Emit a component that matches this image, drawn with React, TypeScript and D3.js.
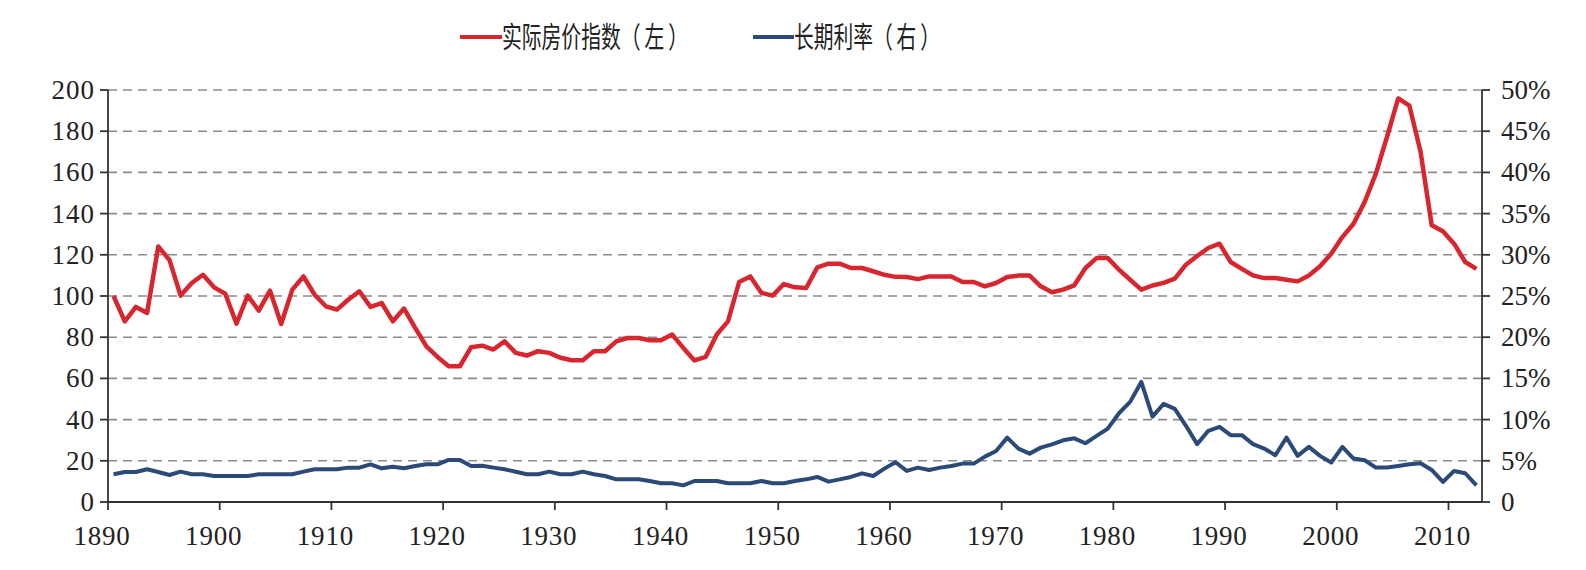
import React from "react";
import * as d3 from "d3";

// Real home price index (1890 = 100), annual, 1890–2012
const years: number[] = d3.range(1890, 2013);
const housePrice: number[] = [
  100, 87.7, 94.7, 91.8, 124, 117.5, 100.2, 106.3, 110.3, 104.2,
  101.1, 86.6, 100.2, 92.9, 102.6, 86.4, 103.1, 109.5, 100.6, 95,
  93.4, 98.2, 102.3, 94.7, 96.6, 87.7, 93.9, 84.5, 75.6, 70.4,
  65.9, 65.9, 75.1, 75.9, 74.0, 78.0, 72.4, 71.1, 73.2, 72.4,
  70.0, 68.8, 68.8, 73.2, 73.2, 78.0, 79.6, 79.6, 78.5, 78.5,
  81.3, 74.8, 68.7, 70.4, 81.3, 87.7, 106.8, 109.5, 101.5, 100.2,
  105.8, 104.2, 103.9, 113.9, 115.7, 115.7, 113.6, 113.6, 112.0, 110.3,
  109.3, 109.2, 108.2, 109.5, 109.5, 109.5, 106.8, 106.8, 104.7, 106.3,
  109.2, 109.9, 109.9, 104.7, 101.8, 103.1, 105.2, 113.6, 118.4, 118.4,
  112.8, 107.9, 103.1, 105.1, 106.4, 108.4, 115.2, 119.4, 123.3, 125.4,
  116.5, 113.2, 110.0, 108.7, 108.7, 107.9, 107.1, 110.0, 114.4, 120.5,
  128.6, 135.1, 145.7, 159.4, 177.3, 195.9, 192.4, 170.0, 134.3, 131.4,
  125.4, 116.5, 113.2,
];

// Long-term interest rate (%), annual, 1890–2012
const longRate: number[] = [
  3.36, 3.64, 3.64, 3.97, 3.64, 3.28, 3.68, 3.36, 3.36, 3.16,
  3.16, 3.16, 3.16, 3.36, 3.36, 3.36, 3.36, 3.68, 3.97, 3.97,
  3.97, 4.17, 4.17, 4.57, 4.09, 4.29, 4.09, 4.37, 4.57, 4.57,
  5.1, 5.1, 4.37, 4.4, 4.17, 3.97, 3.68, 3.36, 3.36, 3.68,
  3.36, 3.36, 3.68, 3.36, 3.16, 2.75, 2.75, 2.75, 2.55, 2.27,
  2.27, 2.02, 2.55, 2.55, 2.55, 2.27, 2.27, 2.27, 2.55, 2.27,
  2.27, 2.55, 2.75, 3.04, 2.47, 2.75, 3.04, 3.48, 3.16, 4.05,
  4.82, 3.77, 4.17, 3.89, 4.17, 4.37, 4.66, 4.66, 5.51, 6.19,
  7.81, 6.48, 5.87, 6.6, 7.0, 7.49, 7.73, 7.13, 8.02, 8.91,
  10.77, 12.15, 14.57, 10.36, 11.9, 11.3, 9.25, 7.02, 8.64, 9.12,
  8.11, 8.11, 7.02, 6.49, 5.68, 7.83, 5.6, 6.69, 5.6, 4.79,
  6.69, 5.27, 5.07, 4.18, 4.18, 4.38, 4.58, 4.7, 3.89, 2.43,
  3.77, 3.49, 2.03,
];

const leftTicks: number[] = [0, 20, 40, 60, 80, 100, 120, 140, 160, 180, 200];
const rightTicks: number[] = [0, 5, 10, 15, 20, 25, 30, 35, 40, 45, 50];
const decadeTicks: number[] = [1890, 1900, 1910, 1920, 1930, 1940, 1950, 1960, 1970, 1980, 1990, 2000, 2010];

const legendPrice = "实际房价指数（\u2009左\u2009）";
const legendRate = "长期利率（\u2009右\u2009）";

const RED = "#d8262f";
const BLUE = "#2c4a78";
const AXIS = "#333333";
const GRID = "#8c8c8c";
const SERIF = "'Liberation Serif', 'Times New Roman', serif";
const CJK = "'Noto Sans CJK SC', sans-serif";

export default function App() {
  const W = 1586;
  const H = 570;
  const left = 108;
  const right = 1482;
  const top = 90;
  const bottom = 502;

  const x = d3.scaleBand<number>().domain(years).range([left, right]).padding(0);
  const cx = (yr: number) => (x(yr) as number) + x.bandwidth() / 2;
  const yL = d3.scaleLinear().domain([0, 200]).range([bottom, top]);
  const yR = d3.scaleLinear().domain([0, 50]).range([bottom, top]);

  const priceLine = d3
    .line<number>()
    .x((_, i) => cx(years[i]))
    .y((d) => yL(d));
  const rateLine = d3
    .line<number>()
    .x((_, i) => cx(years[i]))
    .y((d) => yR(d));

  const tickLen = 8;
  const fontSize = 27;

  return (
    <svg
      width={W}
      height={H}
      style={{ position: "absolute", left: 0, top: 0, background: "#fff", display: "block" }}
    >
      <rect x={0} y={0} width={W} height={H} fill="#fff" />

      {/* legend */}
      <g>
        <line x1={460} x2={502} y1={37} y2={37} stroke={RED} strokeWidth={4} />
        <text
          x={502}
          y={35}
          dominantBaseline="central"
          fontFamily={CJK}
          fontSize={29}
          fill="#222"
          textLength={186}
          lengthAdjust="spacingAndGlyphs"
        >
          {legendPrice}
        </text>
        <line x1={753} x2={794} y1={37} y2={37} stroke={BLUE} strokeWidth={4} />
        <text
          x={794}
          y={35}
          dominantBaseline="central"
          fontFamily={CJK}
          fontSize={29}
          fill="#222"
          textLength={146}
          lengthAdjust="spacingAndGlyphs"
        >
          {legendRate}
        </text>
      </g>

      {/* dashed horizontal gridlines */}
      <g>
        {leftTicks
          .filter((t) => t > 0)
          .map((t) => (
            <line
              key={t}
              x1={left}
              x2={right}
              y1={yL(t)}
              y2={yL(t)}
              stroke={GRID}
              strokeWidth={1.6}
              strokeDasharray="9 6"
            />
          ))}
      </g>

      {/* series */}
      <path d={rateLine(longRate) || ""} fill="none" stroke={BLUE} strokeWidth={4} strokeLinejoin="round" />
      <path d={priceLine(housePrice) || ""} fill="none" stroke={RED} strokeWidth={4.5} strokeLinejoin="round" />

      {/* left axis */}
      <g>
        <line x1={left} x2={left} y1={top} y2={bottom} stroke={AXIS} strokeWidth={1.8} />
        {leftTicks.map((t) => (
          <g key={t}>
            <line x1={left - tickLen} x2={left} y1={yL(t)} y2={yL(t)} stroke={AXIS} strokeWidth={1.8} />
            <text
              x={left - 13}
              y={yL(t)}
              textAnchor="end"
              dominantBaseline="central"
              fontFamily={SERIF}
              fontSize={fontSize}
              letterSpacing={1}
              fill="#222"
            >
              {t}
            </text>
          </g>
        ))}
      </g>

      {/* right axis */}
      <g>
        <line x1={right} x2={right} y1={top} y2={bottom} stroke={AXIS} strokeWidth={1.8} />
        {rightTicks.map((t) => (
          <g key={t}>
            <line x1={right} x2={right + tickLen} y1={yR(t)} y2={yR(t)} stroke={AXIS} strokeWidth={1.8} />
            <text
              x={right + 19}
              y={yR(t)}
              dominantBaseline="central"
              fontFamily={SERIF}
              fontSize={fontSize}
              fill="#222"
            >
              {t === 0 ? "0" : `${t}%`}
            </text>
          </g>
        ))}
      </g>

      {/* bottom axis */}
      <g>
        <line x1={left} x2={right} y1={bottom} y2={bottom} stroke={AXIS} strokeWidth={1.8} />
        {decadeTicks.map((yr) => {
          const tx = x(yr) as number;
          return (
            <g key={yr}>
              <line x1={tx} x2={tx} y1={bottom} y2={bottom + tickLen} stroke={AXIS} strokeWidth={1.8} />
              <text
                x={tx - 6}
                y={545}
                textAnchor="middle"
                fontFamily={SERIF}
                fontSize={fontSize}
                letterSpacing={0.8}
                fill="#222"
              >
                {yr}
              </text>
            </g>
          );
        })}
      </g>
    </svg>
  );
}
